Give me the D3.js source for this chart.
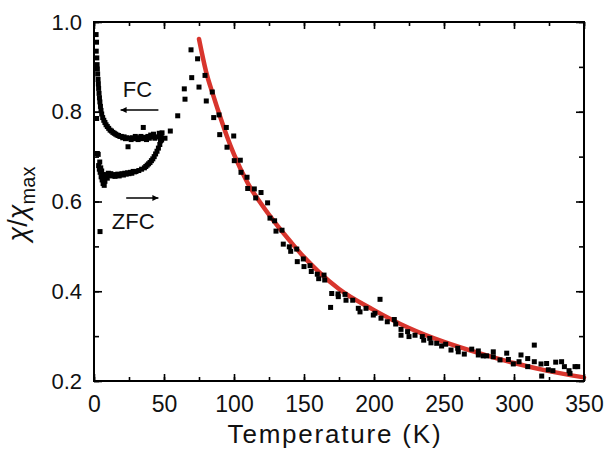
<!DOCTYPE html>
<html>
<head>
<meta charset="utf-8">
<script src="https://cdn.jsdelivr.net/npm/d3@7"></script>
<style>
  body { margin: 0; background: #fff; }
  svg { display: block; font-family: "Liberation Sans", Arial, sans-serif; }
</style>
</head>
<body>
<svg id="chart"></svg>
<script>
// field-cooled branch (low T)
var fcTemp = [1.5, 1.8, 1.6, 2.0, 2.2, 2.4, 2.6, 2.9, 3.1, 3.3, 3.6, 3.9, 4.2, 4.6, 5.0, 5.5, 6.2, 7.0, 7.8, 8.6,
  9.5, 10.5, 11.5, 12.5, 13.5, 14.5, 15.5, 16.5, 17.5, 18.5, 19.5, 20.5, 21.5, 22.5, 23.5, 24.3, 25.5, 26.5, 27.5, 28.5,
  29.5, 30.5, 31.5, 32.5, 33.5, 34.5, 35.2, 36.5, 37.5, 38.5, 39.5, 40.5, 41.5, 42.5, 43.5, 44.8, 46.6, 48.3, 1.9, 2.4];
var fcChi = [0.972, 0.955, 0.935, 0.92, 0.905, 0.895, 0.884, 0.872, 0.862, 0.852, 0.841, 0.831, 0.822, 0.812, 0.803, 0.795, 0.787, 0.781, 0.776, 0.771,
  0.767, 0.763, 0.759, 0.757, 0.754, 0.752, 0.75, 0.748, 0.747, 0.745, 0.745, 0.742, 0.744, 0.74, 0.742, 0.722, 0.741, 0.738, 0.742, 0.74,
  0.745, 0.741, 0.738, 0.742, 0.745, 0.74, 0.765, 0.743, 0.738, 0.745, 0.741, 0.748, 0.744, 0.75, 0.741, 0.744, 0.752, 0.737, 0.785, 0.707];

// zero-field-cooled branch (low T)
var zfcTemp = [3.0, 3.3, 3.8, 4.1, 4.4, 4.8, 5.1, 5.5, 5.8, 6.2, 6.5, 6.9, 7.3, 7.8, 8.3, 8.9, 9.5, 10.2, 11, 12,
  13, 14, 15, 16, 17, 18, 19, 20, 21, 22, 23, 24, 25, 26, 27, 28, 29, 30, 32, 34,
  36, 37, 38, 39, 40, 41, 42, 43, 44, 45, 46, 47, 47.5, 48, 4.3];
var zfcChi = [0.705, 0.68, 0.672, 0.688, 0.665, 0.675, 0.655, 0.668, 0.648, 0.66, 0.64, 0.652, 0.636, 0.645, 0.655, 0.66, 0.652, 0.663, 0.658, 0.662,
  0.657, 0.66, 0.656, 0.659, 0.661, 0.657, 0.66, 0.662, 0.659, 0.663, 0.661, 0.664, 0.662, 0.665, 0.663, 0.667, 0.666, 0.667, 0.669, 0.672,
  0.675, 0.678, 0.681, 0.684, 0.687, 0.691, 0.695, 0.7, 0.706, 0.712, 0.719, 0.727, 0.735, 0.743, 0.533];

// higher temperature points
var hiTemp = [48.6, 50.7, 54.5, 59.8, 64.5, 65, 69.3, 69.8, 74, 75, 79.3, 80.2, 84.5, 85.5, 89.3, 89.8, 94.5, 95, 99.8, 100.2,
  104.5, 105, 109.3, 109.8, 114.5, 115.5, 119.3, 124, 125.7, 129, 130, 134.3, 135.2, 139.5, 140.5, 144.8, 145.2, 149.5, 150, 154.3,
  155.2, 159.5, 160.5, 164.3, 164.8, 169, 169.8, 174.3, 174.5, 179.3, 180, 184.8, 188.8, 190, 194.3, 199.5, 200.7, 204.3, 205, 209.5,
  214.5, 215.5, 219.3, 219.3, 224, 225, 229.3, 234.5, 235.5, 239.8, 240.7, 244.8, 248.3, 251.2, 255, 259.8, 260.2, 264.5, 269.8, 274.5,
  274.5, 278, 280.5, 285.2, 285.2, 290, 294.8, 296, 299.5, 303.6, 305, 309.8, 309.8, 314.5, 314.5, 319.3, 319.8, 323.3, 324.5, 327.8,
  329.8, 334, 336, 339.3, 340, 343.6, 345.5];
var hiChi = [0.753, 0.741, 0.757, 0.791, 0.851, 0.828, 0.938, 0.876, 0.918, 0.855, 0.881, 0.824, 0.844, 0.787, 0.793, 0.749, 0.765, 0.721, 0.746, 0.691,
  0.692, 0.665, 0.654, 0.629, 0.628, 0.608, 0.62, 0.597, 0.563, 0.557, 0.534, 0.536, 0.505, 0.499, 0.489, 0.494, 0.466, 0.472, 0.455, 0.457,
  0.444, 0.438, 0.428, 0.436, 0.425, 0.364, 0.395, 0.394, 0.388, 0.393, 0.38, 0.38, 0.362, 0.354, 0.362, 0.347, 0.351, 0.382, 0.34, 0.332,
  0.337, 0.327, 0.315, 0.302, 0.31, 0.299, 0.302, 0.299, 0.291, 0.295, 0.285, 0.284, 0.278, 0.282, 0.269, 0.273, 0.265, 0.26, 0.271, 0.267,
  0.258, 0.256, 0.256, 0.265, 0.254, 0.247, 0.262, 0.248, 0.238, 0.243, 0.258, 0.25, 0.232, 0.28, 0.243, 0.238, 0.211, 0.239, 0.225, 0.223,
  0.242, 0.243, 0.232, 0.223, 0.217, 0.232, 0.232];

// red fit curve
var fitTemp = [75, 80, 85, 90, 95, 100, 110, 120, 130, 140, 150, 160, 175, 200, 225, 250, 275, 300, 325, 350];
var fitChi = [0.962, 0.89, 0.838, 0.79, 0.745, 0.705, 0.64, 0.592, 0.55, 0.512, 0.476, 0.445, 0.405, 0.358, 0.318, 0.287, 0.262, 0.24, 0.222, 0.208];

var xTicks = [0, 50, 100, 150, 200, 250, 300, 350];
var yTicks = [0.2, 0.4, 0.6, 0.8, 1.0];

var width = 604, height = 450;
var mLeft = 94, mRight = 584, mTop = 22, mBottom = 381;

var svg = d3.select('#chart')
    .attr('width', width)
    .attr('height', height);

var x = d3.scaleLinear().domain([0, 350]).range([mLeft, mRight]);
var y = d3.scaleLinear().domain([0.2, 1.0]).range([mBottom, mTop]);

// fit line under the points
var line = d3.line()
    .x((d, i) => x(fitTemp[i]))
    .y((d, i) => y(fitChi[i]))
    .curve(d3.curveMonotoneX);

svg.append('path')
    .datum(fitTemp)
    .attr('d', line)
    .attr('fill', 'none')
    .attr('stroke', '#d8352d')
    .attr('stroke-width', 4.5)
    .attr('stroke-linecap', 'round');

// points
var pts = [];
fcTemp.forEach((t, i) => pts.push([t, fcChi[i]]));
zfcTemp.forEach((t, i) => pts.push([t, zfcChi[i]]));
hiTemp.forEach((t, i) => pts.push([t, hiChi[i]]));

var sz = 5;
svg.append('g')
  .selectAll('rect')
  .data(pts)
  .enter()
  .append('rect')
    .attr('x', d => x(d[0]) - sz / 2)
    .attr('y', d => y(d[1]) - sz / 2)
    .attr('width', sz)
    .attr('height', sz)
    .attr('fill', '#000');

// axes, ticks pointing inward on all four sides
function ticksInside(g) {
  g.select('.domain').remove();
  g.selectAll('.tick line').attr('stroke', '#000').attr('stroke-width', 1.6);
}

var xMinor = d3.range(0, 351, 25);
var yMinor = d3.range(0.2, 1.001, 0.1);

svg.append('g')
    .attr('transform', 'translate(0,' + mBottom + ')')
    .call(d3.axisBottom(x).tickValues(xMinor).tickSize(-4).tickFormat(''))
    .call(ticksInside);
svg.append('g')
    .attr('transform', 'translate(0,' + mBottom + ')')
    .call(d3.axisBottom(x).tickValues(xTicks).tickSize(-7).tickPadding(15).tickFormat(d3.format('d')))
    .call(ticksInside)
    .selectAll('text')
    .attr('font-size', 23)
    .attr('font-family', '"Liberation Sans", Arial, sans-serif')
    .attr('fill', '#111');
svg.append('g')
    .attr('transform', 'translate(0,' + mTop + ')')
    .call(d3.axisTop(x).tickValues(xMinor).tickSize(-4).tickFormat(''))
    .call(ticksInside);
svg.append('g')
    .attr('transform', 'translate(0,' + mTop + ')')
    .call(d3.axisTop(x).tickValues(xTicks).tickSize(-7).tickFormat(''))
    .call(ticksInside);

svg.append('g')
    .attr('transform', 'translate(' + mLeft + ',0)')
    .call(d3.axisLeft(y).tickValues(yMinor).tickSize(-5).tickFormat(''))
    .call(ticksInside);
svg.append('g')
    .attr('transform', 'translate(' + mLeft + ',0)')
    .call(d3.axisLeft(y).tickValues(yTicks).tickSize(-8).tickPadding(12).tickFormat(d3.format('.1f')))
    .call(ticksInside)
    .selectAll('text')
    .attr('font-size', 22)
    .attr('font-family', '"Liberation Sans", Arial, sans-serif')
    .attr('fill', '#111');
svg.append('g')
    .attr('transform', 'translate(' + mRight + ',0)')
    .call(d3.axisRight(y).tickValues(yMinor).tickSize(-5).tickFormat(''))
    .call(ticksInside);
svg.append('g')
    .attr('transform', 'translate(' + mRight + ',0)')
    .call(d3.axisRight(y).tickValues(yTicks).tickSize(-8).tickFormat(''))
    .call(ticksInside);

svg.append('rect')
    .attr('x', mLeft).attr('y', mTop)
    .attr('width', mRight - mLeft).attr('height', mBottom - mTop)
    .attr('fill', 'none')
    .attr('stroke', '#000')
    .attr('stroke-width', 2);

// axis titles
svg.append('text')
    .attr('x', 335)
    .attr('y', 443)
    .attr('text-anchor', 'middle')
    .attr('font-size', 26)
    .attr('letter-spacing', 1.8)
    .attr('fill', '#111')
    .text('Temperature (K)');

var yt = svg.append('text')
    .attr('transform', 'translate(27,204) rotate(-90)')
    .attr('text-anchor', 'middle')
    .attr('font-size', 27)
    .attr('fill', '#111');
yt.append('tspan').attr('font-style', 'italic').text('χ');
yt.append('tspan').text('/');
yt.append('tspan').attr('font-style', 'italic').text('χ');
yt.append('tspan').attr('font-size', 20).attr('dy', 8).text('max');

// FC / ZFC annotations
svg.append('defs').append('marker')
    .attr('id', 'head')
    .attr('viewBox', '0 0 10 10')
    .attr('refX', 10).attr('refY', 5)
    .attr('markerWidth', 8).attr('markerHeight', 6)
    .attr('markerUnits', 'userSpaceOnUse')
    .attr('orient', 'auto')
  .append('path')
    .attr('d', 'M0,0L10,5L0,10Z')
    .attr('fill', '#000');

svg.append('text')
    .attr('x', x(31)).attr('y', 97)
    .attr('text-anchor', 'middle')
    .attr('font-size', 22)
    .attr('fill', '#111')
    .text('FC');
svg.append('line')
    .attr('x1', x(46)).attr('y1', 110)
    .attr('x2', x(19)).attr('y2', 110)
    .attr('stroke', '#000').attr('stroke-width', 1.3)
    .attr('marker-end', 'url(#head)');

svg.append('text')
    .attr('x', x(28)).attr('y', 229)
    .attr('text-anchor', 'middle')
    .attr('font-size', 22)
    .attr('fill', '#111')
    .text('ZFC');
svg.append('line')
    .attr('x1', x(23)).attr('y1', 198)
    .attr('x2', x(46)).attr('y2', 198)
    .attr('stroke', '#000').attr('stroke-width', 1.3)
    .attr('marker-end', 'url(#head)');
</script>
</body>
</html>
